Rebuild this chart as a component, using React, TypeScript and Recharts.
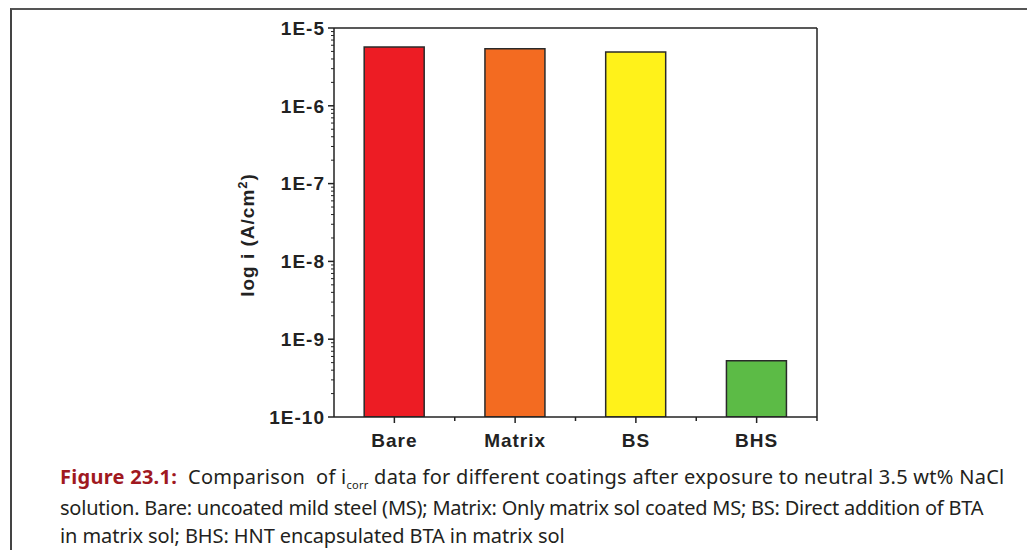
import React from "react";
import { BarChart, Bar, XAxis, YAxis, Cell } from "recharts";

const categories = ["Bare", "Matrix", "BS", "BHS"];
const icorrValues = [5.7e-6, 5.4e-6, 4.9e-6, 5.3e-10];
const barColors = ["#ed1c24", "#f36b21", "#fff21a", "#5cbb46"];
const decadeTicks = [1e-10, 1e-9, 1e-8, 1e-7, 1e-6, 1e-5];
const decadeLabels = ["1E-10", "1E-9", "1E-8", "1E-7", "1E-6", "1E-5"];
const minorMultipliers = [2, 3, 4, 5, 6, 7, 8, 9];

const data = categories.map((name, i) => ({ name, icorr: icorrValues[i] }));

// every minor tick of the log axis, labels only on the decades
const allYTicks: number[] = [];
decadeTicks.forEach((d, i) => {
  allYTicks.push(d);
  if (i < decadeTicks.length - 1) minorMultipliers.forEach((m) => allYTicks.push(d * m));
});

const W = 1027;
const H = 460;
const margin = { top: 27, right: 209, left: 234, bottom: 13 };
const plotLeft = margin.left + 100;
const plotRight = W - margin.right - 1;
const band = (plotRight - plotLeft) / categories.length;

const axisColor = "#222";
const tickFont = "'Liberation Sans', Arial, sans-serif";

const YTick = (props: any) => {
  const { x, y, payload } = props;
  const idx = decadeTicks.findIndex((d) => Math.abs(d - payload.value) / d < 1e-6);
  if (idx < 0) {
    return <line x1={x} x2={x - 3} y1={y} y2={y} stroke={axisColor} strokeWidth={1} />;
  }
  return (
    <g>
      <line x1={x} x2={x - 6} y1={y} y2={y} stroke={axisColor} strokeWidth={1.5} />
      <text
        x={x - 9}
        y={y}
        dy="0.36em"
        textAnchor="end"
        fontFamily={tickFont}
        fontWeight="bold"
        fontSize={19}
        letterSpacing={1}
        fill="#222"
      >
        {decadeLabels[idx]}
      </text>
    </g>
  );
};

const XTick = (props: any) => {
  const { x, y, payload } = props;
  return (
    <g>
      <line x1={x} x2={x} y1={y} y2={y + 6} stroke={axisColor} strokeWidth={1.5} />
      <line x1={x + band / 2} x2={x + band / 2} y1={y} y2={y + 4} stroke={axisColor} strokeWidth={1.5} />
      <text
        x={x}
        y={y + 30}
        textAnchor="middle"
        fontFamily={tickFont}
        fontWeight="bold"
        fontSize={19}
        letterSpacing={1}
        fill="#222"
      >
        {payload.value}
      </text>
    </g>
  );
};

export default function App() {
  return (
    <div style={{ position: "absolute", left: 0, top: 0, width: W, height: 550, background: "#fff", overflow: "hidden" }}>
      <div
        style={{
          position: "absolute",
          left: 10,
          top: 8,
          width: 1100,
          height: 600,
          borderTop: "2px solid #555",
          borderLeft: "2px solid #444",
        }}
      />
      <div style={{ position: "absolute", left: 0, top: 0 }}>
        <BarChart width={W} height={H} data={data} margin={margin} barCategoryGap="25%">
          <XAxis
            dataKey="name"
            height={30}
            axisLine={{ stroke: axisColor, strokeWidth: 1.5 }}
            tickLine={false}
            tickSize={0}
            tickMargin={0}
            interval={0}
            tick={<XTick />}
          />
          <XAxis xAxisId="top" orientation="top" dataKey="name" height={1} tick={false} tickLine={false} axisLine={{ stroke: axisColor, strokeWidth: 1.5 }} />
          <YAxis
            scale="log"
            domain={[1e-10, 1e-5]}
            ticks={allYTicks}
            allowDataOverflow
            width={100}
            interval={0}
            axisLine={{ stroke: axisColor, strokeWidth: 1.5 }}
            tickLine={false}
            tickSize={0}
            tickMargin={0}
            tick={<YTick />}
          />
          <YAxis yAxisId="right" orientation="right" width={1} tick={false} tickLine={false} axisLine={{ stroke: axisColor, strokeWidth: 1.5 }} />
          <text
            x={247}
            y={235}
            transform="rotate(-90 247 235)"
            textAnchor="middle"
            dy="0.36em"
            fontFamily={tickFont}
            fontWeight="bold"
            fontSize={19}
            letterSpacing={1}
            fill="#222"
          >
            log i (A/cm<tspan baselineShift="super" fontSize={13}>2</tspan>)
          </text>
          <Bar dataKey="icorr" stroke="#2a2a2a" strokeWidth={1.5} isAnimationActive={false}>
            {data.map((d, i) => (
              <Cell key={d.name} fill={barColors[i]} />
            ))}
          </Bar>
        </BarChart>
      </div>
      <div
        style={{
          position: "absolute",
          left: 60,
          top: 463,
          width: 960,
          fontFamily: "'Noto Sans', 'Open Sans', sans-serif",
          fontSize: 20,
          lineHeight: "28px",
          color: "#231f20",
          whiteSpace: "nowrap",
        }}
      >
        <div style={{ letterSpacing: 0.27 }}>
          <span style={{ color: "#a0191f", fontWeight: "bold" }}>Figure 23.1:</span>
          {"\u00a0 Comparison \u00a0of i"}
          <span style={{ fontSize: 11, position: "relative", top: 5 }}>corr</span>
          {" data for different coatings after exposure to neutral 3.5 wt% NaCl"}
        </div>
        <div style={{ letterSpacing: -0.23 }}>
          solution. Bare: uncoated mild steel (MS); Matrix: Only matrix sol coated MS; BS: Direct addition of BTA
        </div>
        <div style={{ letterSpacing: -0.1 }}>in matrix sol; BHS: HNT encapsulated BTA in matrix sol</div>
      </div>
    </div>
  );
}
